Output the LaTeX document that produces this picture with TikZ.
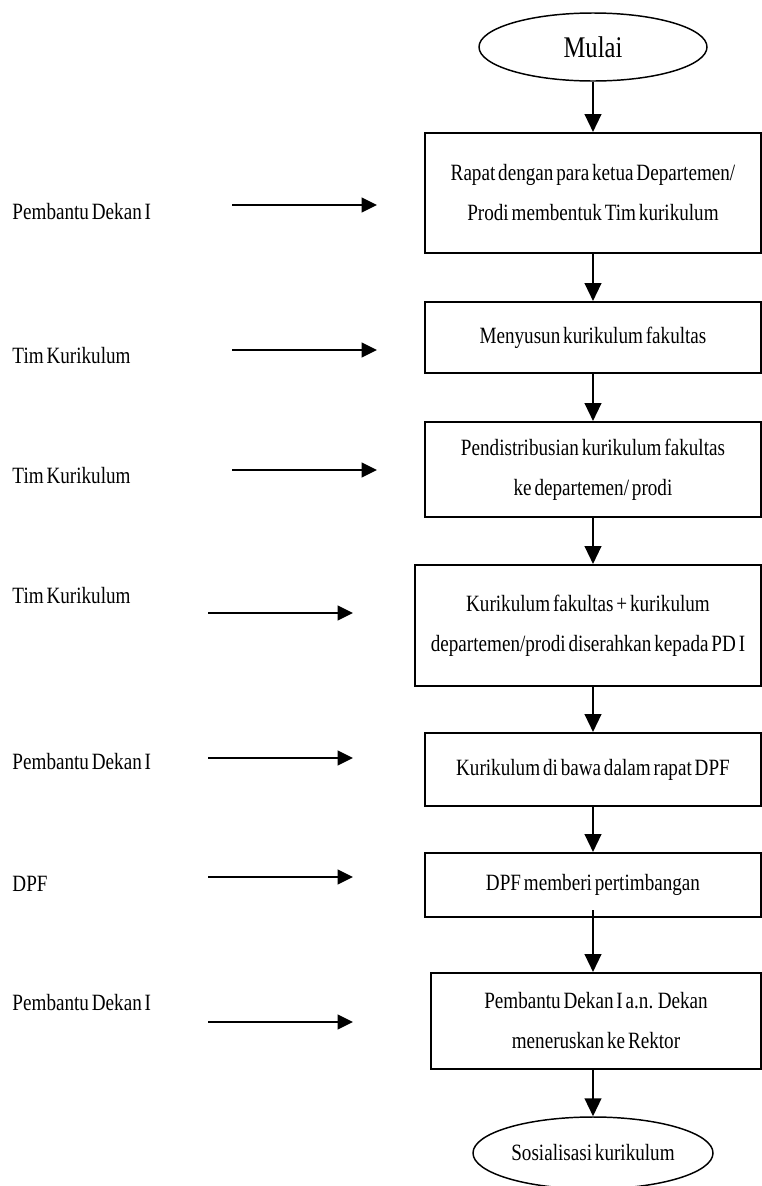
\documentclass[tikz,border=0pt]{standalone}
\usepackage{fontspec}
\setmainfont{Liberation Serif}[FakeStretch=0.82,WordSpace=0.6]
\usetikzlibrary{arrows.meta,shapes.geometric}

\tikzset{every picture/.style={line width=0.75pt}}
\tikzset{
  stepbox/.style={draw, line width=1.5pt, rectangle, inner sep=0pt, align=center, font=\fontsize{17.5}{30}\selectfont},
  terminal/.style={draw, line width=1.1pt, ellipse, inner sep=0pt},
  actor/.style={anchor=base west, inner sep=0pt, font=\fontsize{17.5}{21}\selectfont},
  flow/.style={line width=1.7pt, -{Triangle[length=13.5pt,width=12.5pt]}},
  feed/.style={line width=1.5pt, -{Triangle[length=11.5pt,width=11pt]}},
}

\begin{document}
\begin{tikzpicture}[x=0.75pt,y=0.75pt,yscale=-1,xscale=1]
\useasboundingbox (0,0) rectangle (762,1186);

%Shape: Ellipse
\node [terminal, minimum width=171pt, minimum height=51pt, font=\fontsize{22.5}{27}\selectfont] (mulai) at (593,47) {Mulai};
%Shape: Rectangle
\node [stepbox, minimum width=252pt, minimum height=90pt] (rapat) at (593,193) {Rapat dengan para ketua  Departemen/\\Prodi  membentuk Tim kurikulum};
%Shape: Rectangle
\node [stepbox, minimum width=252pt, minimum height=53.25pt] (susun) at (593,337.5) {Menyusun kurikulum fakultas};
%Shape: Rectangle
\node [stepbox, minimum width=252pt, minimum height=71.25pt] (distribusi) at (593,469.5) {Pendistribusian kurikulum fakultas\\ke departemen/ prodi};
%Shape: Rectangle
\node [stepbox, minimum width=259.5pt, minimum height=90.75pt] (serah) at (588,625.5) {Kurikulum fakultas  + kurikulum\\departemen/prodi diserahkan kepada  PD I};
%Shape: Rectangle
\node [stepbox, minimum width=252pt, minimum height=54.75pt] (rapatdpf) at (593,769.5) {Kurikulum di bawa dalam rapat DPF};
%Shape: Rectangle
\node [stepbox, minimum width=252pt, minimum height=48pt] (timbang) at (593,885) {DPF memberi  pertimbangan};
%Shape: Rectangle
\node [stepbox, minimum width=247.5pt, minimum height=72pt] (rektor) at (596,1021) {Pembantu Dekan  I  a.n.  Dekan\\meneruskan ke Rektor};
%Shape: Ellipse
\node [terminal, minimum width=180pt, minimum height=54pt, font=\fontsize{17.5}{21}\selectfont] (sosialisasi) at (593,1153) {Sosialisasi kurikulum};

%Straight Lines
\draw [flow] (mulai) -- (mulai |- rapat.north);
\draw [flow] (rapat) -- (susun);
\draw [flow] (susun) -- (distribusi);
\draw [flow] (distribusi) -- (distribusi |- serah.north);
\draw [flow] (serah.south -| rapatdpf) -- (rapatdpf);
\draw [flow] (rapatdpf) -- (timbang);
\draw [flow] ([yshift=-6pt]timbang.south) -- (rektor.north -| timbang);
\draw [flow] (rektor.south -| timbang) -- (sosialisasi);

% Text Node
\node [actor] (pd1) at (12,219) {Pembantu Dekan I};
% Text Node
\node [actor] (tim1) at (12,363) {Tim Kurikulum};
% Text Node
\node [actor] (tim2) at (12,483) {Tim Kurikulum};
% Text Node
\node [actor] (tim3) at (12,603) {Tim Kurikulum};
% Text Node
\node [actor] (pd2) at (12,769) {Pembantu Dekan  I};
% Text Node
\node [actor] (dpf) at (12,891) {DPF};
% Text Node
\node [actor] (pd3) at (12,1010) {Pembantu Dekan  I};

%Straight Lines
\coordinate (a1) at (232,205); \coordinate (b1) at (377,205);
\coordinate (a2) at (232,350); \coordinate (b2) at (377,350);
\coordinate (a3) at (232,470); \coordinate (b3) at (377,470);
\coordinate (a4) at (208,613); \coordinate (b4) at (353,613);
\coordinate (a5) at (208,758); \coordinate (b5) at (353,758);
\coordinate (a6) at (208,877); \coordinate (b6) at (353,877);
\coordinate (a7) at (208,1022); \coordinate (b7) at (353,1022);
\foreach \i in {1,...,7}
  \draw [feed] (a\i) -- (b\i);

\end{tikzpicture}
\end{document}
